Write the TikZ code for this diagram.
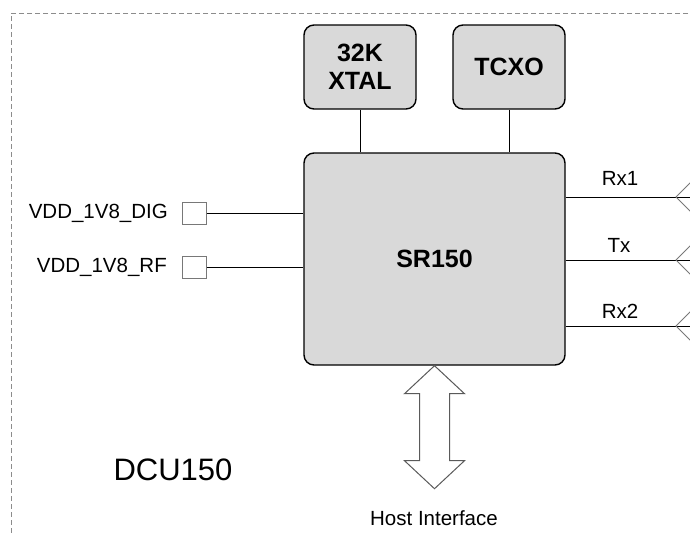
\documentclass[tikz,border=0pt]{standalone}
\usepackage{fontspec}
\setmainfont{Liberation Sans}
\usetikzlibrary{calc}
\definecolor{boxfill}{RGB}{217,217,217}
\definecolor{dashgray}{RGB}{140,140,140}
\definecolor{chevgray}{RGB}{120,120,120}
\definecolor{arrowgray}{RGB}{90,90,90}
\tikzset{
  chip/.style={draw=black, line width=1.4pt, fill=boxfill, rounded corners=10pt, inner sep=0pt, align=center,
    font=\fontsize{25}{28}\selectfont\bfseries},
  pad/.style={draw=chevgray, line width=1pt, fill=white, minimum width=24pt, minimum height=22pt, inner sep=0pt},
  lbl/.style={font=\fontsize{20.5}{24}\selectfont, inner sep=0pt},
  wire/.style={draw=black, line width=0.9pt},
  chev/.style={draw=chevgray, line width=0.9pt},
  frame/.style={draw=dashgray, line width=1pt, dash pattern=on 5pt off 3pt},
  hostarrow/.style={draw=arrowgray, line width=1pt, fill=white}
}
\begin{document}
\begin{tikzpicture}[x=1pt,y=-1pt]
\useasboundingbox (0,0) rectangle (690,533);
\clip (0,0) rectangle (690,533);
% outer dashed frame
\draw[frame] (720,13) -- (11,13) -- (11,560);
% chips
\node[chip, minimum width=112pt, minimum height=84pt] (xtal) at (360,67) {32K\\XTAL};
\node[chip, minimum width=112pt, minimum height=84pt] (tcxo) at (509,67) {TCXO};
\node[chip, minimum width=261pt, minimum height=212pt] (sr) at (434.5,259) {SR150};
% clock connections
\draw[wire] (xtal.south) -- (xtal.south |- sr.north);
\draw[wire] (tcxo.south) -- (tcxo.south |- sr.north);
% power pads
\node[pad] (dig) at (194,213) {};
\node[pad] (rf) at (194,267) {};
\node[lbl, anchor=base east] (diglbl) at (168,218) {VDD\_1V8\_DIG};
\node[lbl, anchor=base east] (rflbl) at (167,272) {VDD\_1V8\_RF};
\draw[wire] (dig.east) -- (dig.east -| sr.west);
\draw[wire] (rf.east) -- (rf.east -| sr.west);
% RF ports
\coordinate (r1) at (690,197);
\coordinate (tx) at (690,260);
\coordinate (r2) at (690,326);
\draw[wire] (r1 -| sr.east) -- ($(r1)+(20,0)$);
\draw[wire] (tx -| sr.east) -- ($(tx)+(20,0)$);
\draw[wire] (r2 -| sr.east) -- ($(r2)+(20,0)$);
\foreach \p in {r1,tx,r2}{
  \draw[chev] ($(\p)+(10,-24)$) -- ($(\p)+(-14,0)$) -- ($(\p)+(10,24)$);
}
\node[lbl, anchor=base] (r1lbl) at (620,185) {Rx1};
\node[lbl, anchor=base] (txlbl) at (619,252) {Tx};
\node[lbl, anchor=base] (r2lbl) at (620,318) {Rx2};
% host interface double arrow
\coordinate (h) at (sr.south);
\draw[hostarrow] (h) -- ++(-30,28) -- ++(15,0) -- ++(0,67) -- ++(-15,0) -- ++(30,28)
  -- ++(30,-28) -- ++(-15,0) -- ++(0,-67) -- ++(15,0) -- cycle;
\node[lbl, anchor=base] (host) at (434,525) {Host Interface};
% module name
\node[inner sep=0pt, anchor=base, font=\fontsize{31}{35}\selectfont] (dcu) at (173,480) {DCU150};
\end{tikzpicture}
\end{document}
